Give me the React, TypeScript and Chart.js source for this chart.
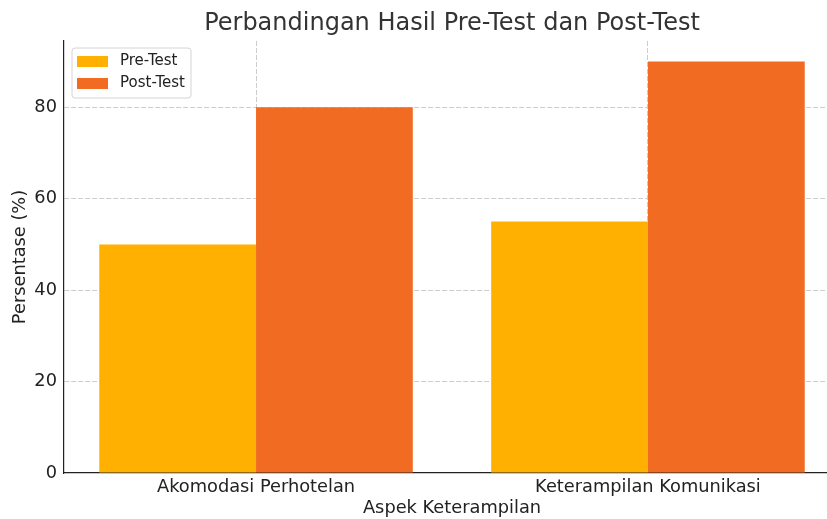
import React, { useEffect, useRef } from 'react';
import { Chart, registerables } from 'chart.js';
Chart.register(...registerables);

const categories = ['Akomodasi Perhotelan', 'Keterampilan Komunikasi'];
const preTest = [50, 55];
const postTest = [80, 90];
const yTicks = [0, 20, 40, 60, 80];
const seriesLabels = ['Pre-Test', 'Post-Test'];
const seriesColors = ['#FFB000', '#F26B22'];
const titleText = 'Perbandingan Hasil Pre-Test dan Post-Test';
const xTitle = 'Aspek Keterampilan';
const yTitle = 'Persentase (%)';

const FONT = "'DejaVu Sans', sans-serif";

const titlePlugin = {
  id: 'centerTitle',
  afterDraw(chart: any) {
    const { ctx, chartArea } = chart;
    ctx.save();
    ctx.fillStyle = '#333';
    ctx.font = `24px ${FONT}`;
    ctx.textAlign = 'center';
    ctx.textBaseline = 'middle';
    ctx.fillText(titleText, (chartArea.left + chartArea.right) / 2, chartArea.top - 17);
    ctx.restore();
  },
};

const legendPlugin = {
  id: 'boxLegend',
  afterDraw(chart: any) {
    const { ctx, chartArea } = chart;
    const x0 = chartArea.left + 8;
    const y0 = chartArea.top + 7;
    const w = 119;
    const h = 50;
    const r = 3;
    ctx.save();
    ctx.beginPath();
    ctx.moveTo(x0 + r, y0);
    ctx.lineTo(x0 + w - r, y0);
    ctx.arcTo(x0 + w, y0, x0 + w, y0 + r, r);
    ctx.lineTo(x0 + w, y0 + h - r);
    ctx.arcTo(x0 + w, y0 + h, x0 + w - r, y0 + h, r);
    ctx.lineTo(x0 + r, y0 + h);
    ctx.arcTo(x0, y0 + h, x0, y0 + h - r, r);
    ctx.lineTo(x0, y0 + r);
    ctx.arcTo(x0, y0, x0 + r, y0, r);
    ctx.closePath();
    ctx.fillStyle = 'rgba(255,255,255,0.85)';
    ctx.fill();
    ctx.strokeStyle = '#d4d4d4';
    ctx.lineWidth = 1;
    ctx.stroke();
    chart.data.datasets.forEach((ds: any, i: number) => {
      const cy = y0 + 13.5 + i * 22;
      ctx.fillStyle = ds.backgroundColor;
      ctx.fillRect(x0 + 5, cy - 5.5, 31, 11);
      ctx.fillStyle = '#222';
      ctx.font = `15px ${FONT}`;
      ctx.textBaseline = 'middle';
      ctx.textAlign = 'left';
      ctx.fillText(ds.label, x0 + 48, cy);
    });
    ctx.restore();
  },
};

export default function App() {
  const ref = useRef<HTMLCanvasElement | null>(null);
  useEffect(() => {
    if (!ref.current) return;
    const chart = new Chart(ref.current, {
      type: 'bar',
      data: {
        datasets: [
          {
            label: seriesLabels[0],
            data: preTest.map((v, i) => ({ x: i, y: v })),
            backgroundColor: seriesColors[0],
            borderWidth: 0,
          },
          {
            label: seriesLabels[1],
            data: postTest.map((v, i) => ({ x: i, y: v })),
            backgroundColor: seriesColors[1],
            borderWidth: 0,
          },
        ],
      },
      options: {
        animation: false,
        responsive: false,
        maintainAspectRatio: false,
        layout: { padding: { left: 0, right: 20, top: 41, bottom: 0 } },
        datasets: { bar: { categoryPercentage: 0.8, barPercentage: 1.0 } },
        plugins: {
          legend: { display: false },
          tooltip: { enabled: false },
          title: { display: false },
        },
        scales: {
          x: {
            type: 'linear',
            min: -0.49,
            max: 1.49,
            offset: false,
            z: 1,
            afterBuildTicks: (s: any) => {
              s.ticks = categories.map((_, i) => ({ value: i }));
            },
            afterFit: (s: any) => {
              s.height = 46;
            },
            grid: {
              offset: false,
              color: '#cccccc',
              lineWidth: 1,
              drawTicks: false,
            },
            border: { display: true, color: '#222', width: 1.2, dash: [5, 2] },
            ticks: {
              autoSkip: false,
              maxRotation: 0,
              padding: 4,
              color: '#222',
              font: { family: FONT, size: 17.8 },
              callback: (v: any) => categories[v] ?? '',
            },
            title: {
              display: true,
              text: xTitle,
              color: '#222',
              font: { family: FONT, size: 17.8 },
              padding: { top: 0, bottom: 0 },
            },
          },
          y: {
            type: 'linear',
            min: 0,
            max: 94.5,
            z: 1,
            afterBuildTicks: (s: any) => {
              s.ticks = yTicks.map((v) => ({ value: v }));
            },
            afterFit: (s: any) => {
              s.width = 64;
            },
            grid: {
              color: (c: any) => (c.tick && c.tick.value === 0 ? 'rgba(0,0,0,0)' : '#cccccc'),
              lineWidth: 1,
              drawTicks: false,
            },
            border: { display: true, color: '#222', width: 1.2, dash: [5, 2] },
            ticks: {
              padding: 7,
              color: '#222',
              font: { family: FONT, size: 17.8 },
              callback: (v: any) => String(v),
            },
            title: {
              display: true,
              text: yTitle,
              color: '#222',
              font: { family: FONT, size: 17.8 },
              padding: { top: 9.5, bottom: 0 },
            },
          },
        },
      },
      plugins: [titlePlugin, legendPlugin],
    } as any);
    return () => chart.destroy();
  }, []);
  return (
    <div style={{ position: 'fixed', left: 0, top: 0, width: 827, height: 519, overflow: 'hidden', background: '#fff' }}>
      <canvas ref={ref} width={860} height={519} style={{ display: 'block', width: 860, height: 519 }} />
    </div>
  );
}
